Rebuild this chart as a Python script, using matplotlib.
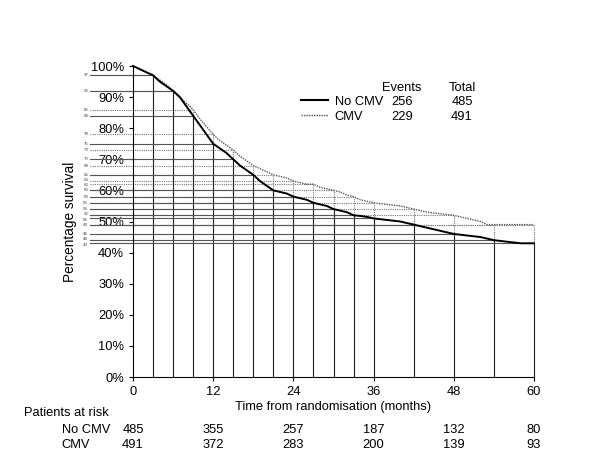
import matplotlib
matplotlib.use('Agg')
import matplotlib.pyplot as plt

plt.rcParams['font.family'] = ['Liberation Sans', 'DejaVu Sans']

# Kaplan-Meier curves (month, % surviving)
nocmv_t = [0, 1, 2, 3, 4, 5, 6, 7, 8, 9, 10, 11, 12, 13, 14, 15, 16, 17, 18, 19, 20,
           21, 22, 23, 24, 25, 26, 27, 28, 29, 30, 31, 32, 33, 34, 35, 36, 38, 40, 42,
           44, 46, 48, 50, 52, 54, 56, 58, 60]
nocmv_s = [100, 99, 98, 97, 95, 93.5, 92, 90, 87, 84, 81, 78, 75, 73.5, 72, 70, 68, 66.5,
           65, 63, 61.5, 60, 59.5, 59, 58, 57.5, 57, 56, 55.5, 55, 54, 53.5, 53, 52, 51.8,
           51.5, 51, 50.5, 50, 49, 48, 47, 46, 45.5, 45, 44, 43.5, 43, 43]
cmv_t = [0, 1, 2, 3, 4, 5, 6, 7, 8, 9, 10, 11, 12, 13, 14, 15, 16, 17, 18, 19, 20,
         21, 22, 23, 24, 25, 26, 27, 28, 29, 30, 31, 32, 33, 34, 35, 36, 38, 40, 42,
         44, 46, 48, 50, 52, 53, 54, 60]
cmv_s = [100, 99, 98, 97, 95.5, 94, 92, 90, 88, 86, 83, 80.5, 78, 76, 74.5, 73, 71, 69.5,
         68, 67, 66, 65, 64.5, 64, 63, 62.5, 62, 62, 61, 60.5, 60, 59.5, 58.5, 58, 57,
         56.5, 56, 55.5, 55, 54, 53, 52.5, 52, 51, 50, 49, 49, 49]

# survival read at the marked times
mark_t = [3, 6, 9, 12, 15, 18, 21, 24, 27, 30, 33, 36, 42, 48, 54, 60]
nocmv_mark = [97, 92, 84, 75, 70, 65, 60, 58, 56, 54, 52, 51, 49, 46, 44, 43]
cmv_mark = [97, 92, 86, 78, 73, 68, 65, 63, 62, 60, 58, 56, 54, 52, 49, 49]

groups = ['No CMV', 'CMV']
events = [256, 229]
totals = [485, 491]
risk_t = [0, 12, 24, 36, 48, 60]
risk_nocmv = [485, 355, 257, 187, 132, 80]
risk_cmv = [491, 372, 283, 200, 139, 93]

fig = plt.figure(figsize=(6, 4.5), dpi=100)
ax = fig.add_axes([0.2217, 0.1622, 0.6683, 0.6911])
ax.set_xlim(0, 60)
ax.set_ylim(0, 100)

x_left = -6.4  # where the reference lines start, left of the axis

# drop lines: dotted for CMV, solid for No CMV
for t, s in zip(mark_t, cmv_mark):
    ax.plot([t, t], [0, s], color='#777777', lw=0.8, ls=(0, (1, 1)), clip_on=False)
    ax.plot([x_left, t], [s, s], color='#777777', lw=0.8, ls=(0, (1, 1)), clip_on=False)
for t, s in zip(mark_t, nocmv_mark):
    ax.plot([t, t], [0, s], color='#222222', lw=0.8, clip_on=False)
    ax.plot([x_left, t], [s, s], color='#555555', lw=0.8, clip_on=False)

# tiny value labels; nudge neighbours 1 apart so they don't sit on each other
labels = sorted(set(nocmv_mark + cmv_mark))
for i, s in enumerate(labels):
    off = 0
    if i > 0 and s - labels[i - 1] == 1:
        off += 0.4
    if i < len(labels) - 1 and labels[i + 1] - s == 1:
        off -= 0.4
    ax.text(x_left - 0.3, s + off, str(s), fontsize=3.2, ha='right', va='center',
            color='#444444', clip_on=False)

ax.plot(cmv_t, cmv_s, color='#555555', lw=1.0, ls=(0, (1, 0.8)), clip_on=False)
ax.plot(nocmv_t, nocmv_s, color='black', lw=1.4, clip_on=False)

for side in ['top', 'right']:
    ax.spines[side].set_visible(False)
ax.spines['left'].set_linewidth(0.8)
ax.spines['bottom'].set_linewidth(0.8)
ax.set_xticks(risk_t)
ax.set_yticks(range(0, 101, 10))
ax.set_yticklabels([f'{v}%' for v in range(0, 101, 10)])
ax.tick_params(labelsize=9.3, length=3, width=0.8)
ax.set_xlabel('Time from randomisation (months)', fontsize=9.3, labelpad=2)
ax.set_ylabel('Percentage survival', fontsize=9.8, labelpad=10)

# legend table
lx = 0.502
fig.text(0.67, 0.798, 'Events', fontsize=9.3, ha='center')
fig.text(0.77, 0.798, 'Total', fontsize=9.3, ha='center')
for i, (g, e, n) in enumerate(zip(groups, events, totals)):
    y = 0.767 - i * 0.034
    fig.add_artist(plt.Line2D([lx, lx + 0.045], [y + 0.011, y + 0.011],
                              color='black' if i == 0 else '#555555',
                              lw=1.5 if i == 0 else 1.0, ls='-' if i == 0 else (0, (1, 0.8))))
    fig.text(0.558, y, g, fontsize=9.3)
    fig.text(0.67, y, str(e), fontsize=9.3, ha='center')
    fig.text(0.77, y, str(n), fontsize=9.3, ha='center')

# patients at risk table
fig.text(0.04, 0.075, 'Patients at risk', fontsize=9.3)
fig.text(0.103, 0.037, groups[0], fontsize=9.3)
fig.text(0.103, 0.004, groups[1], fontsize=9.3)
for t, a, b in zip(risk_t, risk_nocmv, risk_cmv):
    xf = ax.transData.transform((t, 0))[0] / fig.bbox.width
    fig.text(xf, 0.037, str(a), fontsize=9.3, ha='center')
    fig.text(xf, 0.004, str(b), fontsize=9.3, ha='center')

fig.savefig('out.png', dpi=100)
